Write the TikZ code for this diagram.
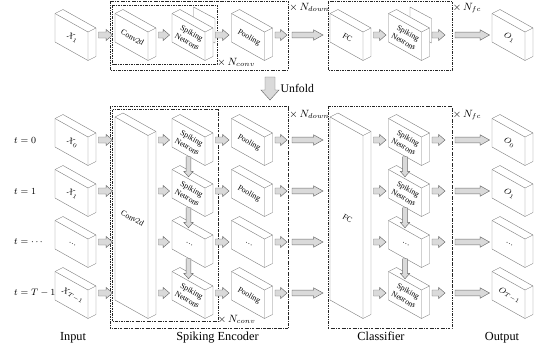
\documentclass[tikz,border=0pt]{standalone}
\usepackage{fontspec}
\setmainfont{Liberation Serif}
\usetikzlibrary{calc}
\definecolor{c1}{HTML}{7F7F7F}
\definecolor{c2}{HTML}{DADADA}

% hollow block arrow from #4 to #5 (shaft half width, head half width, head length)
\newcommand\fatarrow[5]{%
  \coordinate (fa-h) at ($(#5)!#3!(#4)$);
  \filldraw[fatarr] ($(#4)!#1!90:(#5)$) -- ($(fa-h)!#1!-90:(#4)$) -- ($(fa-h)!#2!-90:(#4)$)
    -- (#5) -- ($(fa-h)!#2!90:(#4)$) -- ($(fa-h)!#1!90:(#4)$) -- ($(#4)!#1!-90:(#5)$) -- cycle;
}
\newcommand\sarrow[2]{\fatarrow{0.9mm}{1.65mm}{1.9mm}{#1}{#2}}
\newcommand\larrow[2]{\fatarrow{0.85mm}{1.55mm}{2.8mm}{#1}{#2}}
\newcommand\varrow[2]{\fatarrow{0.7mm}{1.4mm}{1.6mm}{#1}{#2}}

\tikzset{
  boxline/.style={draw=c1, line width=0.35pt, fill=white, line join=round},
  boxtxt/.style={font=\fontsize{6.7}{8}\selectfont, rotate=-29, align=center, inner sep=0pt},
  fatarr/.style={draw=c1!85!black, fill=c2, line width=0.4pt},
  loopframe/.style={black!85, line width=0.6pt, dash pattern=on 2.2pt off 1pt on 0.5pt off 1pt},
  mult/.style={font=\fontsize{8.8}{10}\selectfont, anchor=base west, inner sep=0.5pt},
  colname/.style={font=\fontsize{10.5}{12}\selectfont, anchor=base},
  steplabel/.style={font=\fontsize{8.3}{10}\selectfont, anchor=west, inner sep=0pt},
  % 3d block: #1 = height of the front edge, #2 = label
  pics/blk/.style 2 args={code={
    \pgfmathsetmacro\hh{#1/2}
    \filldraw[boxline] (-16.5,{-\hh-9.25}) -- (-8.5,{-\hh-13.25}) -- (24.5,{-\hh+5.25})
      -- (24.5,{\hh+5.25}) -- (16.5,{\hh+9.25}) -- (-16.5,{\hh-9.25}) -- cycle;
    \draw[boxline, fill=none] (-16.5,{-\hh-9.25}) -- (16.5,{-\hh+9.25}) -- (16.5,{\hh+9.25});
    \draw[boxline, fill=none] (16.5,{-\hh+9.25}) -- (24.5,{-\hh+5.25});
    \node[boxtxt] (-c) at (1,0.5) {#2};
    \coordinate (-e) at (27,-2);
    \coordinate (-w) at (-19,-2);
    \coordinate (-n) at (0,{-\hh-2});
    \coordinate (-s) at (0,{\hh+0.5});
  }},
  % recurrent sheet behind the neuron block
  pics/sheet/.style={code={
    \filldraw[boxline] (5,-30) -- (26.5,-18.5) -- (26.5,6) -- (5,-5) -- cycle;
  }}
}

\begin{document}
\begin{tikzpicture}[x=0.3mm, y=-0.3mm]
\useasboundingbox (0,0) rectangle (539,351);

% ===== folded network =====
\draw[loopframe] (110,1) rectangle (288,70);
\draw[loopframe] (112.5,5) rectangle (217,64);
\draw[loopframe] (328,1) rectangle (452,70);
\node[mult] at (216.5,65) {$\times\, N_{conv}$};
\node[mult] at (288.5,10) {$\times\, N_{down}$};
\node[mult] at (452,10) {$\times\, N_{fc}$};

\pic (x1) at (71.5,37) {blk={28.5}{$X_1$}};
\pic (conva) at (131.5,37) {blk={28.5}{Conv2d}};
\pic at (188.5,37) {sheet};
\pic (sna) at (188.5,37) {blk={28.5}{Spiking\\Neurons}};
\pic (poola) at (248,37) {blk={28.5}{Pooling}};
\pic (fca) at (346.5,37) {blk={28.5}{FC}};
\pic at (405,37) {sheet};
\pic (snb) at (405,37) {blk={28.5}{Spiking\\Neurons}};
\pic (oa) at (508.5,37) {blk={28.5}{$O_1$}};

\coordinate (pa) at (287,35);
\coordinate (da) at (292,35);
\coordinate (fa) at ($(fca-w)+(-4.5,0)$);
\coordinate (ca) at (445,35);
\coordinate (cda) at (455,35);

\sarrow{x1-e}{conva-w}
\sarrow{conva-e}{sna-w}
\sarrow{sna-e}{poola-w}
\sarrow{poola-e}{pa}
\larrow{da}{fa}
\sarrow{fca-e}{snb-w}
\sarrow{snb-e}{ca}
\larrow{cda}{oa-w}

% ===== unfold =====
\coordinate (ua) at (270,77);
\coordinate (ub) at (270,100);
\fatarrow{1.5mm}{2.7mm}{3mm}{ua}{ub}
\node[font=\fontsize{10}{12}\selectfont, anchor=base west, inner sep=0pt] at (280.5,92) {Unfold};

% ===== unfolded network =====
\draw[loopframe] (110,106.5) rectangle (288,328);
\draw[loopframe] (112.5,109.5) rectangle (218,321.5);
\draw[loopframe] (328,106.5) rectangle (452,328);
\node[mult] at (217,322.5) {$\times\, N_{conv}$};
\node[mult] at (288.5,117.5) {$\times\, N_{down}$};
\node[mult] at (452,117.5) {$\times\, N_{fc}$};

\pic (convb) at (131.5,217.75) {blk={183}{Conv2d}};
\pic (fcb) at (346.5,217.75) {blk={183}{FC}};

\foreach \r/\y/\tl/\xl/\sl/\pl/\ol in {
    0/142/{$t=0$}/{$X_0$}/{Spiking\\Neurons}/Pooling/{$O_0$},
    1/193/{$t=1$}/{$X_1$}/{Spiking\\Neurons}/Pooling/{$O_1$},
    2/244/{$t=\cdots$}/{\dots}/{\dots}/{\dots}/{\dots},
    3/295/{$t=T-1$}/{$X_{T-1}$}/{Spiking\\Neurons}/Pooling/{$O_{T-1}$}%
}{
    \pic (xin\r) at (71.5,\y) {blk={28.5}{\xl}};
    \node[steplabel] (t\r) at (14,\y-2) {\tl};
    \pic (sn\r) at (188.5,\y) {blk={28.5}{\sl}};
    \pic (pool\r) at (248,\y) {blk={28.5}{\pl}};
    \pic (snc\r) at (405,\y) {blk={28.5}{\sl}};
    \pic (out\r) at (508.5,\y) {blk={28.5}{\ol}};
}

\foreach \r in {0,1,2,3}{
    \coordinate (cw\r) at (convb-w |- xin\r-e);
    \coordinate (ce\r) at (convb-e |- xin\r-e);
    \coordinate (pe\r) at (287,0 |- xin\r-e);
    \coordinate (dl\r) at (292,0 |- xin\r-e);
    \coordinate (fw\r) at ($(fcb-w |- xin\r-e)+(-4.5,0)$);
    \coordinate (fe\r) at (fcb-e |- xin\r-e);
    \coordinate (ke\r) at (445,0 |- xin\r-e);
    \coordinate (kl\r) at (455,0 |- xin\r-e);
    \sarrow{xin\r-e}{cw\r}
    \sarrow{ce\r}{sn\r-w}
    \sarrow{sn\r-e}{pool\r-w}
    \sarrow{pool\r-e}{pe\r}
    \larrow{dl\r}{fw\r}
    \sarrow{fe\r}{snc\r-w}
    \sarrow{snc\r-e}{ke\r}
    \larrow{kl\r}{out\r-w}
}

% recurrence between time steps
\foreach \a/\b in {0/1, 1/2, 2/3}{
    \varrow{sn\a-s}{sn\b-n}
    \varrow{snc\a-s}{snc\b-n}
}

% ===== column names =====
\node[colname] (lin) at (73,340.5) {Input};
\node[colname] (lenc) at (217.5,340.5) {Spiking Encoder};
\node[colname] (lcls) at (381,340.5) {Classifier};
\node[colname] (lout) at (502,340.5) {Output};

\end{tikzpicture}
\end{document}
